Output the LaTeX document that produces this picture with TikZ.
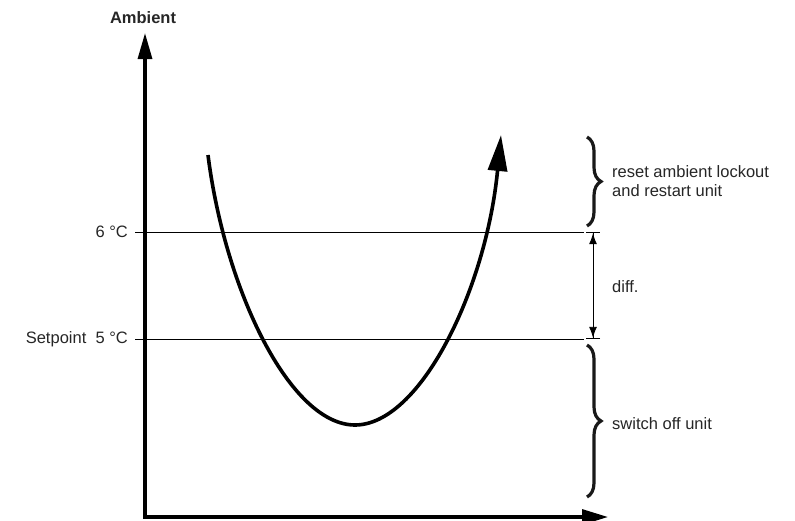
\documentclass[tikz,border=0pt]{standalone}
\usepackage{fontspec}
\setmainfont{Liberation Sans}
\usetikzlibrary{arrows.meta,decorations.pathreplacing}
\begin{document}
\begin{tikzpicture}[x=1pt,y=-1pt,
  lbl/.style={inner sep=0pt,font=\fontsize{16.5}{19.5}\selectfont,text=black!85},
  axis/.style={line width=3.2pt,line cap=butt},
  thin/.style={line width=0.9pt},
  bracestyle/.style={decorate,line width=3.2pt,decoration={brace,amplitude=14pt,aspect=0.5},black!90},
  curve/.style={line width=3.6pt}]
\useasboundingbox (0,0) rectangle (795,520);
% axes
\coordinate (O) at (145,517);
\coordinate (ytip) at (145,33);
\coordinate (xtip) at (608,517);
\draw[axis,-{Triangle[length=26pt,width=14pt]}] ([yshift=-1.6pt]O) -- (ytip);
\draw[axis,-{Triangle[length=26pt,width=15pt]}] ([xshift=-1.6pt]O) -- (xtip);
\node[lbl,font=\fontsize{16.5}{19.5}\selectfont\bfseries] (amb) at (143,18) {Ambient};
% level lines
\coordinate (l6a) at (135,232); \coordinate (l6b) at (584,232);
\coordinate (l5a) at (135,339); \coordinate (l5b) at (584,339);
\draw[thin] (l6a) -- (l6b);
\draw[thin] (l5a) -- (l5b);
\node[lbl,anchor=east] (t6) at (128,232) {6 °C};
\node[lbl,anchor=east] (t5) at (128,339) {Setpoint\ \ 5 °C};
% differential arrow
\coordinate (d1) at (593,232); \coordinate (d2) at (593,339);
\draw[thin,{Bar[width=14pt,line width=1.2pt]Latex[length=11pt,width=8pt]}-{Latex[length=11pt,width=8pt]Bar[width=14pt,line width=1.2pt]}] (d1) -- (d2);
\node[lbl,anchor=west] (tdiff) at (612,287) {diff.};
% braces
\coordinate (b1a) at (587,137); \coordinate (b1b) at (587,226);
\coordinate (b2a) at (587,345); \coordinate (b2b) at (587,497);
\draw[bracestyle] (b1a) -- (b1b);
\draw[bracestyle] (b2a) -- (b2b);
\node[lbl,anchor=west,align=left] (treset) at (612,181) {reset ambient lockout\\and restart unit};
\node[lbl,anchor=west] (toff) at (612,424) {switch off unit};
% curve
\coordinate (cs) at (208,155);
\coordinate (cm) at (355,425);
\coordinate (ce) at (501,135);
\draw[curve,line cap=butt] (cs) .. controls (225,290) and (290,425) .. (cm);
\draw[curve,-{Triangle[length=36pt,width=19pt]}] (cm) .. controls (420,425) and (486,290) .. (ce);
\end{tikzpicture}
\end{document}
